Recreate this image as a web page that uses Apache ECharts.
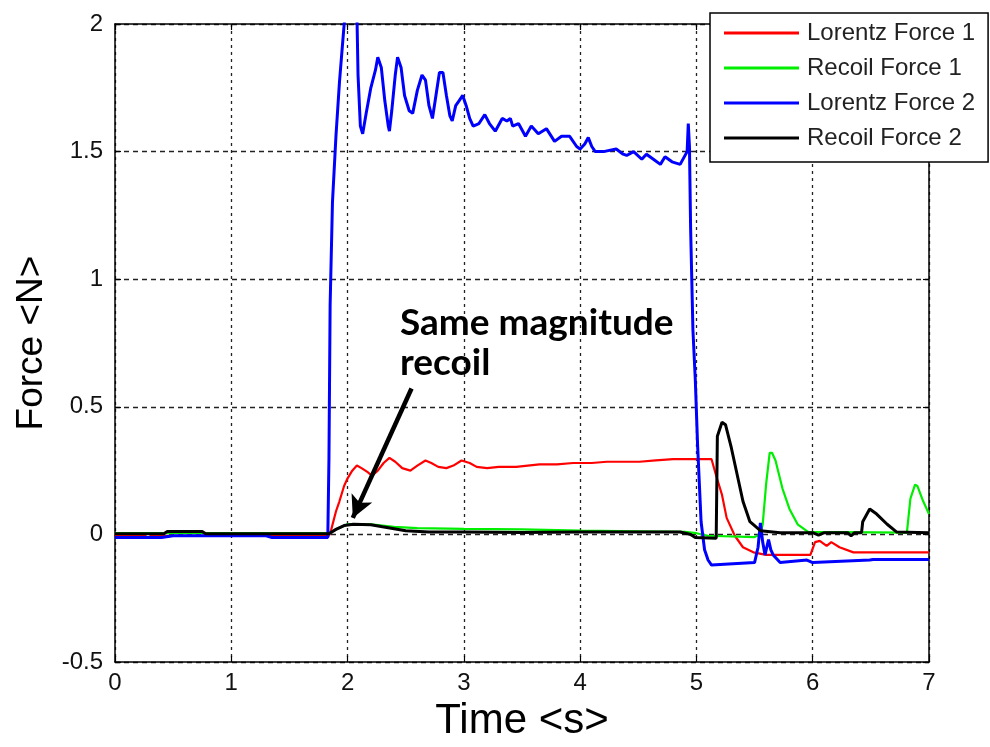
<!DOCTYPE html>
<html>
<head>
<meta charset="utf-8">
<title>Force vs Time</title>
<script src="https://cdn.jsdelivr.net/npm/echarts@6/dist/echarts.min.js"></script>
<style>
  html, body { margin: 0; padding: 0; background: #fff; }
  #chart { width: 990px; height: 747px; }
</style>
</head>
<body>
<div id="chart"></div>
<script>
// Axis tick positions
const xTicks = [0, 1, 2, 3, 4, 5, 6, 7];
const yTicks = [-0.5, 0, 0.5, 1, 1.5, 2];

const seriesNames = ['Lorentz Force 1', 'Recoil Force 1', 'Lorentz Force 2', 'Recoil Force 2'];

// [time (s), force (N)]
const lorentz1 = [
  [0, -0.005], [0.25, -0.005], [0.28, 0.005], [0.32, -0.005], [1.84, -0.005],
  [1.86, 0.02], [1.90, 0.09], [1.93, 0.13], [1.97, 0.19], [2.0, 0.22], [2.04, 0.25],
  [2.08, 0.27], [2.12, 0.26], [2.17, 0.245], [2.21, 0.23], [2.26, 0.25], [2.31, 0.28],
  [2.36, 0.30], [2.41, 0.285], [2.47, 0.26], [2.54, 0.25], [2.6, 0.27], [2.67, 0.29],
  [2.72, 0.28], [2.78, 0.265], [2.85, 0.26], [2.91, 0.27], [2.98, 0.29], [3.05, 0.28],
  [3.11, 0.265], [3.2, 0.26], [3.3, 0.265], [3.45, 0.265], [3.65, 0.275], [3.8, 0.275],
  [3.94, 0.28], [4.1, 0.28], [4.23, 0.285], [4.4, 0.285], [4.51, 0.285], [4.65, 0.29],
  [4.8, 0.295], [5.0, 0.295], [5.13, 0.295], [5.17, 0.23], [5.22, 0.155], [5.26, 0.065],
  [5.33, -0.005], [5.40, -0.05], [5.49, -0.07], [5.6, -0.08], [5.98, -0.08], [6.02, -0.03],
  [6.06, -0.025], [6.12, -0.045], [6.16, -0.03], [6.23, -0.05], [6.35, -0.07], [6.58, -0.07],
  [7, -0.07]
];

const recoil1 = [
  [0, 0.005], [1.84, 0.005], [1.9, 0.02], [2.0, 0.04], [2.2, 0.04], [2.4, 0.03],
  [2.6, 0.025], [3.0, 0.022], [3.5, 0.02], [4.0, 0.015], [4.5, 0.012], [4.9, 0.01],
  [5.0, 0.005], [5.1, -0.005], [5.5, -0.01], [5.55, 0.0], [5.57, 0.04], [5.6, 0.2],
  [5.63, 0.32], [5.65, 0.32], [5.68, 0.29], [5.74, 0.18], [5.80, 0.10], [5.87, 0.04],
  [5.96, 0.01], [6.81, 0.007], [6.84, 0.14], [6.88, 0.195], [6.90, 0.19], [6.95, 0.13],
  [7.0, 0.08]
];

const lorentz2 = [
  [0, -0.012], [0.4, -0.012], [0.5, -0.005], [1.3, -0.005], [1.35, -0.012], [1.83, -0.012],
  [1.84, 0.3], [1.85, 0.9], [1.87, 1.3], [1.9, 1.56], [1.93, 1.77], [1.96, 1.94],
  [1.98, 2.05], [2.03, 2.2], [2.08, 2.05], [2.09, 1.8], [2.11, 1.6], [2.13, 1.57],
  [2.16, 1.65], [2.2, 1.75], [2.24, 1.82], [2.26, 1.87], [2.29, 1.83], [2.32, 1.7],
  [2.35, 1.6], [2.36, 1.58], [2.38, 1.66], [2.41, 1.8], [2.43, 1.87], [2.46, 1.83],
  [2.49, 1.72], [2.53, 1.66], [2.56, 1.65], [2.6, 1.74], [2.64, 1.8], [2.67, 1.78],
  [2.70, 1.68], [2.73, 1.63], [2.76, 1.72], [2.79, 1.81], [2.82, 1.81], [2.85, 1.72],
  [2.88, 1.64], [2.9, 1.62], [2.93, 1.68], [2.96, 1.70], [2.99, 1.72], [3.02, 1.68],
  [3.05, 1.63], [3.08, 1.60], [3.13, 1.61], [3.18, 1.645], [3.22, 1.61], [3.27, 1.58],
  [3.33, 1.63], [3.37, 1.62], [3.40, 1.63], [3.42, 1.60], [3.47, 1.61], [3.53, 1.56],
  [3.58, 1.60], [3.64, 1.57], [3.71, 1.59], [3.78, 1.54], [3.84, 1.56], [3.91, 1.56],
  [3.97, 1.52], [4.0, 1.51], [4.04, 1.53], [4.07, 1.555], [4.1, 1.52], [4.13, 1.50],
  [4.2, 1.50], [4.31, 1.51], [4.37, 1.49], [4.40, 1.485], [4.46, 1.50], [4.53, 1.47],
  [4.57, 1.49], [4.63, 1.47], [4.69, 1.45], [4.73, 1.48], [4.79, 1.46], [4.86, 1.45],
  [4.92, 1.50], [4.93, 1.61], [4.94, 1.52], [4.95, 1.2], [4.97, 0.8], [4.99, 0.61],
  [5.01, 0.35], [5.04, 0.05], [5.07, -0.06], [5.10, -0.10], [5.13, -0.12], [5.5, -0.11],
  [5.53, -0.05], [5.55, 0.045], [5.57, -0.03], [5.59, -0.08], [5.62, -0.02], [5.64, -0.06],
  [5.66, -0.08], [5.72, -0.11], [5.95, -0.10], [6.0, -0.11], [6.49, -0.10], [6.52, -0.098],
  [7, -0.098]
];

const recoil2 = [
  [0, 0.003], [0.42, 0.003], [0.45, 0.012], [0.75, 0.012], [0.78, 0.003], [1.84, 0.003],
  [1.9, 0.02], [1.97, 0.035], [2.05, 0.04], [2.2, 0.038], [2.3, 0.03], [2.5, 0.015],
  [2.7, 0.01], [3.0, 0.01], [3.5, 0.008], [4.0, 0.01], [4.5, 0.01], [4.86, 0.01],
  [4.95, 0.0], [4.99, -0.012], [5.17, -0.015], [5.18, 0.385], [5.22, 0.44], [5.25, 0.43],
  [5.30, 0.34], [5.35, 0.235], [5.40, 0.13], [5.46, 0.05], [5.55, 0.015], [5.72, 0.007],
  [6.0, 0.007], [6.05, -0.003], [6.1, 0.007], [6.3, 0.007], [6.33, -0.005], [6.36, 0.007],
  [6.42, 0.007], [6.43, 0.05], [6.49, 0.10], [6.55, 0.08], [6.64, 0.04], [6.72, 0.01],
  [7, 0.007]
];

const lineColors = ['#ff0000', '#00ee00', '#0000ff', '#000000'];
const lineWidths = [2.2, 2.2, 3, 3];

const FONT = '"Liberation Sans", Arial, sans-serif';
const gridDash = { color: '#222', width: 1.3, type: [5, 4] };
const boxLine = { show: true, onZero: false, lineStyle: { color: '#000', width: 1.5 } };
const tickIn = { show: true, inside: true, length: 6, lineStyle: { color: '#000', width: 1.2 } };

const xMin = xTicks[0], xMax = xTicks[xTicks.length - 1];
const yMin = yTicks[0], yMax = yTicks[yTicks.length - 1];
const xStep = xTicks[1] - xTicks[0], yStep = yTicks[1] - yTicks[0];

const chart = echarts.init(document.getElementById('chart'), null, { renderer: 'canvas' });

const dataSets = [lorentz1, recoil1, lorentz2, recoil2];
const series = dataSets.map((d, i) => ({
  name: seriesNames[i],
  type: 'line',
  data: d,
  xAxisIndex: 0,
  yAxisIndex: 0,
  symbol: 'none',
  showSymbol: false,
  clip: true,
  animation: false,
  lineStyle: { color: lineColors[i], width: lineWidths[i] },
  itemStyle: { color: lineColors[i] },
  z: 3 + i
}));

// Annotation arrow pointing at the recoil bump
series[3].markLine = {
  silent: true,
  animation: false,
  symbol: ['none', 'arrow'],
  symbolSize: [17, 22],
  label: { show: false },
  lineStyle: { color: '#000', width: 4.5, type: 'solid' },
  data: [[{ coord: [2.55, 0.572] }, { coord: [2.045, 0.065] }]]
};

chart.setOption({
  animation: false,
  backgroundColor: '#fff',
  grid: { left: 115, right: 61, top: 24, bottom: 82, containLabel: false },
  legend: {
    data: seriesNames,
    orient: 'vertical',
    left: 710,
    top: 13,
    backgroundColor: '#fff',
    borderColor: '#000',
    borderWidth: 1.5,
    borderRadius: 0,
    padding: [7, 13, 11, 14],
    icon: 'path://M0,0 L75,0 L75,3 L0,3 Z',
    itemWidth: 75,
    itemHeight: 14,
    itemGap: 9,
    textStyle: { fontFamily: FONT, fontSize: 24, lineHeight: 26, color: '#222', padding: [0, 0, 0, 3] },
    selectedMode: false,
    z: 10
  },
  xAxis: [
    {
      type: 'value', min: xMin, max: xMax, interval: xStep,
      name: 'Time <s>', nameLocation: 'middle', nameGap: 35,
      nameTextStyle: { fontFamily: FONT, fontSize: 42, color: '#000' },
      axisLine: boxLine, axisTick: tickIn,
      axisLabel: { fontFamily: FONT, fontSize: 24, color: '#111', margin: 9 },
      splitLine: { show: true, lineStyle: { color: '#222', width: 1.3, type: [3, 4] } }
    },
    {
      type: 'value', min: xMin, max: xMax, interval: xStep, position: 'top',
      axisLine: boxLine, axisTick: tickIn, axisLabel: { show: false }, splitLine: { show: false }
    }
  ],
  yAxis: [
    {
      type: 'value', min: yMin, max: yMax, interval: yStep,
      name: 'Force <N>', nameLocation: 'middle', nameRotate: 90, nameGap: 64,
      nameTextStyle: { fontFamily: FONT, fontSize: 37, color: '#000' },
      axisLine: boxLine, axisTick: tickIn,
      axisLabel: { fontFamily: FONT, fontSize: 24, color: '#111', margin: 12 },
      splitLine: { show: true, lineStyle: gridDash }
    },
    {
      type: 'value', min: yMin, max: yMax, interval: yStep, position: 'right',
      axisLine: boxLine, axisTick: tickIn, axisLabel: { show: false }, splitLine: { show: false }
    }
  ],
  graphic: [
    {
      type: 'text',
      left: 400,
      top: 303,
      z: 20,
      style: {
        text: 'Same magnitude\nrecoil',
        fontFamily: 'Lato, "Open Sans", sans-serif',
        fontWeight: 'bold',
        fontSize: 37,
        lineHeight: 40,
        fill: '#000'
      }
    }
  ],
  series: series
});
</script>
</body>
</html>
